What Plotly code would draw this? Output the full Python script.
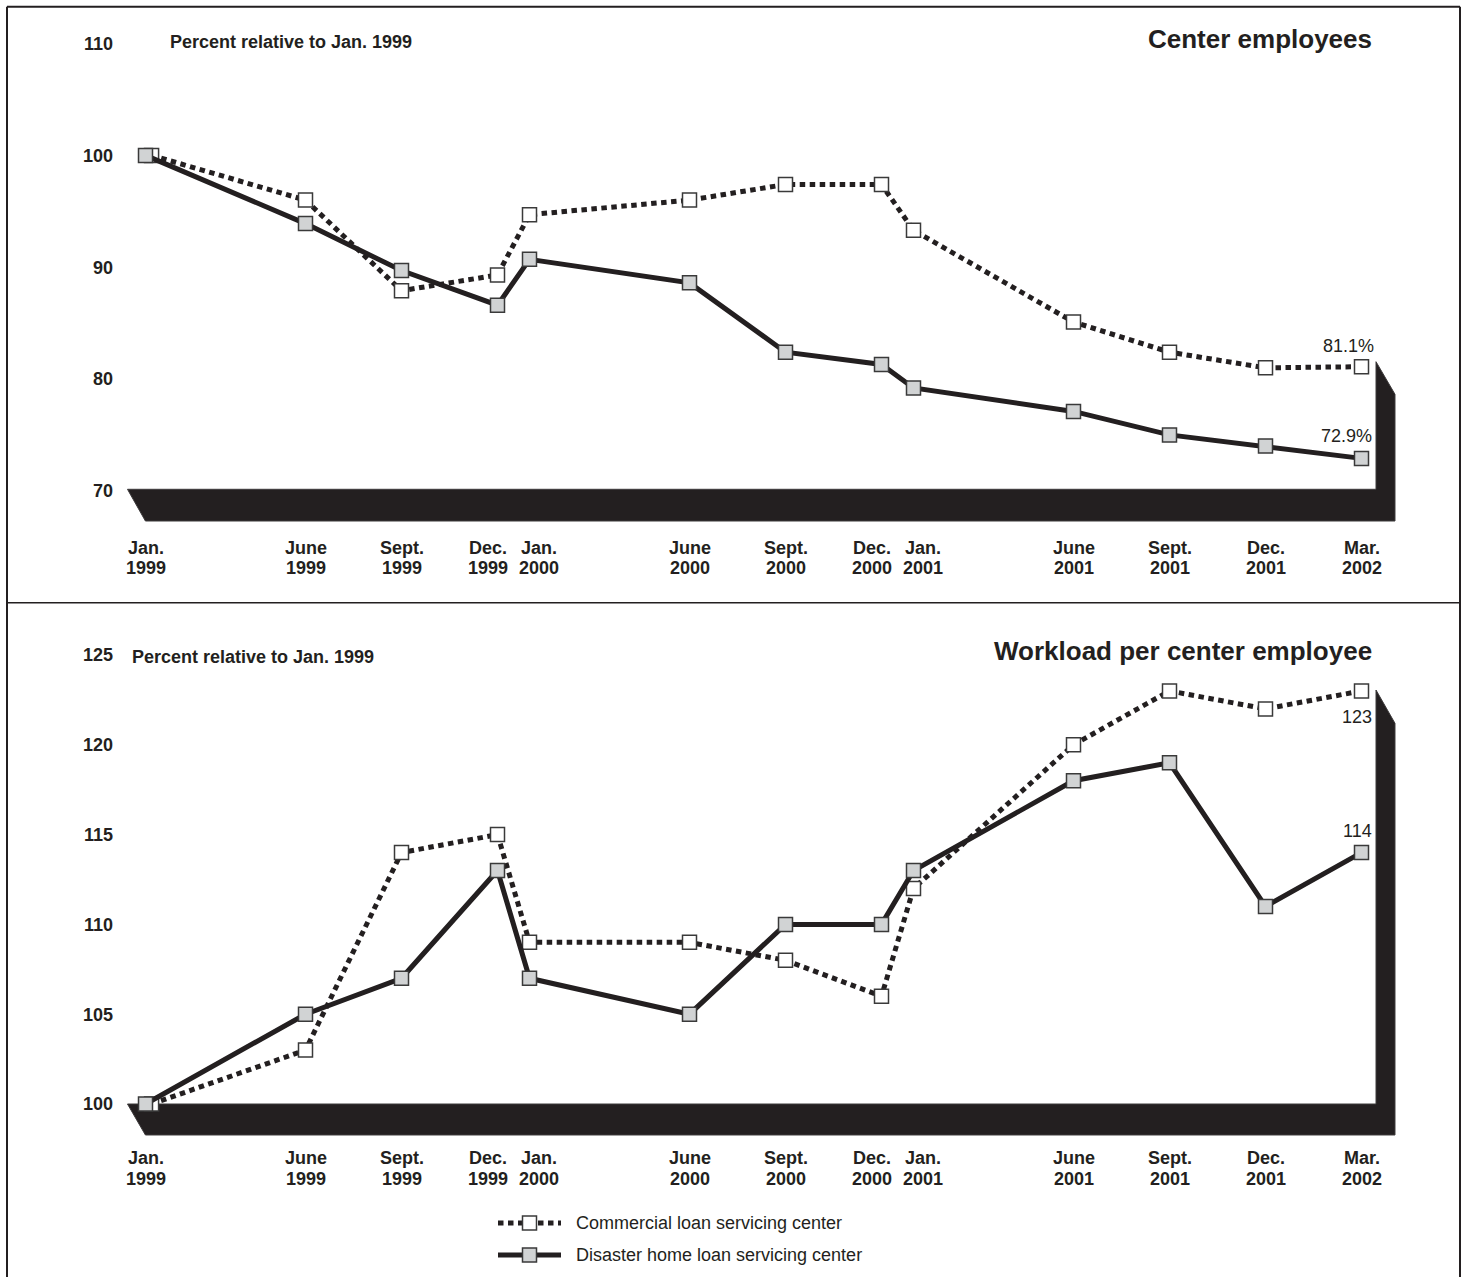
import plotly.graph_objects as go

# ---------------------------------------------------------------- data
period_month = ["Jan.", "June", "Sept.", "Dec.", "Jan.", "June", "Sept.", "Dec.",
                "Jan.", "June", "Sept.", "Dec.", "Mar."]
period_year = ["1999", "1999", "1999", "1999", "2000", "2000", "2000", "2000",
               "2001", "2001", "2001", "2001", "2002"]
months_since_jan_1999 = [0, 5, 8, 11, 12, 17, 20, 23, 24, 29, 32, 35, 38]

# Center employees, percent of the January 1999 level
employees_commercial = [100, 96.0, 87.9, 89.3, 94.7, 96.0, 97.4, 97.4, 93.3, 85.1, 82.4, 81.0, 81.1]
employees_disaster = [100, 93.9, 89.7, 86.6, 90.7, 88.6, 82.4, 81.3, 79.2, 77.1, 75.0, 74.0, 72.9]

# Workload per center employee, percent of the January 1999 level
workload_commercial = [100, 103, 114, 115, 109, 109, 108, 106, 112, 120, 123, 122, 123]
workload_disaster = [100, 105, 107, 113, 107, 105, 110, 110, 113, 118, 119, 111, 114]

employees_ticks = [70, 80, 90, 100, 110]
workload_ticks = [100, 105, 110, 115, 120, 125]

series_names = ["Commercial loan servicing center", "Disaster home loan servicing center"]
panel_titles = ["Center employees", "Workload per center employee"]
axis_caption = "Percent relative to Jan. 1999"

# ---------------------------------------------------------------- style
W, H = 1468, 1277
INK = "#231f20"
GRAY = "#d1d3d4"
FONT = "Liberation Sans, Arial, Helvetica, sans-serif"
DOT = "5.5px,4.5px"


def px_x(px):
    return px / W


def px_y(py):
    return 1 - py / H


# month axis: Jan. 1999 sits at x = 145.5 px, 32 px per month
X0_PX, PX_PER_MONTH = 145.5, 32.0
x_range = [-X0_PX / PX_PER_MONTH, (W - X0_PX) / PX_PER_MONTH]


def y_window(v_ref, py_ref, px_per_unit, py_top, py_bottom):
    v_top = v_ref + (py_ref - py_top) / px_per_unit
    v_bot = v_ref - (py_bottom - py_ref) / px_per_unit
    return [px_y(py_bottom), px_y(py_top)], [v_bot, v_top]


panels = [
    dict(commercial=employees_commercial, disaster=employees_disaster, ticks=employees_ticks,
         title=panel_titles[0], suffix="%", fmt="{:.1f}",
         scale=(100, 155.4, 11.18, 7, 602),
         base=(489.3, 521.0, 361.7, 394.3),
         caption_xy=(168, 42.5), title_y=39,
         label_rows=(548, 568),
         shift_commercial=(14, 21), shift_disaster=(12, 22)),
    dict(commercial=workload_commercial, disaster=workload_disaster, ticks=workload_ticks,
         title=panel_titles[1], suffix="", fmt="{:.0f}",
         scale=(100, 1104.0, 17.96, 603, 1277),
         base=(1104.0, 1135.0, 690.0, 723.3),
         caption_xy=(130, 657), title_y=651,
         label_rows=(1158, 1179),
         shift_commercial=(12, -26), shift_disaster=(12, 22)),
]

# the two series start at the same point; the commercial square peeks out
START_NUDGE = 0.19

fig = go.Figure()
shapes, annotations = [], []
layout_axes = {}

for i, p in enumerate(panels, start=1):
    sfx = "" if i == 1 else str(i)
    xa, ya = "x" + sfx, "y" + sfx
    dom, rng = y_window(*p["scale"])

    layout_axes["xaxis" + sfx] = dict(domain=[0, 1], range=x_range, visible=False,
                                      anchor=ya, fixedrange=True)
    layout_axes["yaxis" + sfx] = dict(domain=dom, range=rng, anchor="free", position=px_x(113),
                                      tickmode="array", tickvals=p["ticks"],
                                      ticktext=[str(t) for t in p["ticks"]],
                                      ticks="", showgrid=False, zeroline=False, showline=False,
                                      tickfont=dict(family=FONT, size=18, color=INK,
                                                    weight="bold"),
                                      fixedrange=True)

    x_comm = [m + (START_NUDGE if k == 0 else 0) for k, m in enumerate(months_since_jan_1999)]
    fig.add_trace(go.Scatter(
        x=x_comm, y=p["commercial"], xaxis=xa, yaxis=ya, mode="lines+markers",
        name=series_names[0], showlegend=False, cliponaxis=False,
        line=dict(color=INK, width=5, dash=DOT),
        marker=dict(symbol="square", size=14, color="white", line=dict(color="#3a3a3a", width=1.5))))
    fig.add_trace(go.Scatter(
        x=months_since_jan_1999, y=p["disaster"], xaxis=xa, yaxis=ya, mode="lines+markers",
        name=series_names[1], showlegend=False, cliponaxis=False,
        line=dict(color=INK, width=5),
        marker=dict(symbol="square", size=14, color=GRAY, line=dict(color="#3a3a3a", width=1.5))))

    # black 3-D base under the plot with the wall at the right
    b_top, b_bot, w_top_l, w_top_r = p["base"]
    pts = [(127.5, b_top), (1376, b_top), (1376, w_top_l), (1395, w_top_r),
           (1395, b_bot), (145.4, b_bot)]
    path = "M " + " L ".join(f"{px_x(a):.5f},{px_y(b):.5f}" for a, b in pts) + " Z"
    shapes.append(dict(type="path", xref="paper", yref="paper", path=path,
                       fillcolor=INK, line=dict(color="#3d3a3b", width=1), layer="below"))

    # month / year labels beneath the base
    for k, m in enumerate(months_since_jan_1999):
        shift = 0
        if k + 1 < len(months_since_jan_1999) and months_since_jan_1999[k + 1] - m == 1:
            shift = -10
        elif k > 0 and m - months_since_jan_1999[k - 1] == 1:
            shift = 9
        for text, row in zip((period_month[k], period_year[k]), p["label_rows"]):
            annotations.append(dict(x=m, xref=xa, y=px_y(row), yref="paper", text=text,
                                    showarrow=False, xanchor="center", yanchor="middle",
                                    xshift=shift,
                                    font=dict(family=FONT, size=18, color=INK, weight="bold")))

    # axis caption and panel title
    cx, cy = p["caption_xy"]
    annotations.append(dict(x=px_x(cx), y=px_y(cy), xref="paper", yref="paper", text=axis_caption,
                            showarrow=False, xanchor="left", yanchor="middle",
                            font=dict(family=FONT, size=18, color=INK, weight="bold")))
    annotations.append(dict(x=px_x(1374), y=px_y(p["title_y"]), xref="paper", yref="paper",
                            text=p["title"], showarrow=False, xanchor="right", yanchor="middle",
                            font=dict(family=FONT, size=26, color=INK, weight="bold")))

    # end-point value labels
    for series, key in ((p["commercial"], "shift_commercial"), (p["disaster"], "shift_disaster")):
        dx, dy = p[key]
        annotations.append(dict(x=months_since_jan_1999[-1], y=series[-1], xref=xa, yref=ya,
                                text=p["fmt"].format(series[-1]) + p["suffix"], showarrow=False,
                                xanchor="right", yanchor="middle", xshift=dx, yshift=dy,
                                font=dict(family=FONT, size=18, color=INK)))

# legend drawn on its own small axis pair: rows at 1 (commercial) and 0 (disaster)
layout_axes["xaxis3"] = dict(domain=[px_x(498), px_x(561)], range=[0, 1], visible=False,
                             anchor="y3", fixedrange=True)
layout_axes["yaxis3"] = dict(domain=[px_y(1271), px_y(1207)], range=[-0.5, 1.5], visible=False,
                             anchor="x3", fixedrange=True)
legend_rows = [1, 0]
fig.add_trace(go.Scatter(x=[0, 1], y=[legend_rows[0]] * 2, xaxis="x3", yaxis="y3", mode="lines",
                         line=dict(color=INK, width=5, dash=DOT), showlegend=False,
                         hoverinfo="skip", cliponaxis=False))
fig.add_trace(go.Scatter(x=[0, 1], y=[legend_rows[1]] * 2, xaxis="x3", yaxis="y3", mode="lines",
                         line=dict(color=INK, width=5), showlegend=False,
                         hoverinfo="skip", cliponaxis=False))
fig.add_trace(go.Scatter(x=[0.5, 0.5], y=legend_rows, xaxis="x3", yaxis="y3", mode="markers",
                         marker=dict(symbol="square", size=14, color=["white", GRAY],
                                     line=dict(color="#3a3a3a", width=1.5)),
                         showlegend=False, hoverinfo="skip", cliponaxis=False))
for name, row in zip(series_names, legend_rows):
    annotations.append(dict(x=px_x(574), xref="paper", y=row, yref="y3", text=name,
                            showarrow=False, xanchor="left", yanchor="middle",
                            font=dict(family=FONT, size=18, color=INK)))

# outer frame (open at the bottom) and the divider between the panels
frame = [((7, 6.7), (1460, 6.7)), ((7, 6.7), (7, H + 5)), ((1460, 6.7), (1460, H + 5))]
for (a, b), (c, d) in frame:
    shapes.append(dict(type="line", xref="paper", yref="paper", x0=px_x(a), y0=px_y(b),
                       x1=px_x(c), y1=px_y(d), line=dict(color=INK, width=2)))
shapes.append(dict(type="line", xref="paper", yref="paper", x0=px_x(7), y0=px_y(602.7),
                   x1=px_x(1460), y1=px_y(602.7), line=dict(color=INK, width=1.5)))

fig.update_layout(
    width=W, height=H, margin=dict(l=0, r=0, t=0, b=0),
    paper_bgcolor="white", plot_bgcolor="rgba(0,0,0,0)",
    showlegend=False, shapes=shapes, annotations=annotations,
    font=dict(family=FONT, color=INK),
    **layout_axes,
)

fig.write_html("out.html", config={"displayModeBar": False})
